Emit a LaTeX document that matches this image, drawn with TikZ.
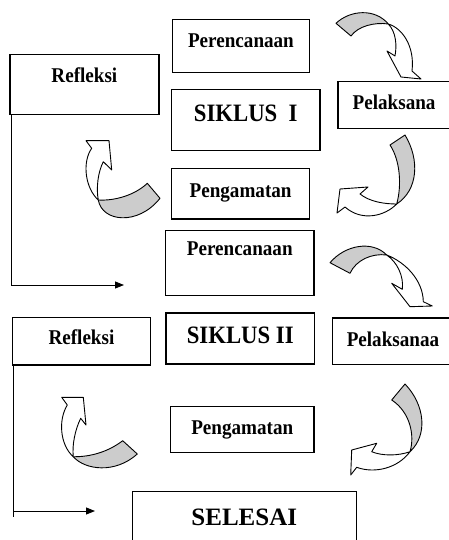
\documentclass[tikz,border=0pt]{standalone}
\usepackage{fontspec}
\newfontfamily\stepfont[FakeStretch=0.91]{Liberation Serif}
\newfontfamily\endfont{Liberation Serif}
\usetikzlibrary{arrows.meta,calc}

\tikzset{
  stepbox/.style={draw, line width=1.2pt, inner sep=0pt, anchor=north west,
    font=\stepfont\bfseries\fontsize{21}{25}\selectfont},
  cyclebox/.style={stepbox, font=\stepfont\bfseries\fontsize{25}{30}\selectfont},
  flow/.style={-{Triangle[length=9pt,width=7pt]}, line width=0.9pt},
  backface/.style={draw, fill=gray!40, line width=0.9pt, line join=round},
  frontface/.style={draw, fill=white, line width=0.9pt, line join=round},
}

\begin{document}
\begin{tikzpicture}[x=1pt, y=-1pt]

\useasboundingbox (0,0) rectangle (449,540);
\clip (0,0) rectangle (449,540);

% siklus I
\node[stepbox, minimum width=137.3pt, text height=28.3pt, text depth=24.4pt] (plan1) at (171.7,19) {Perencanaan};
\node[stepbox, minimum width=149pt, text height=28.3pt, text depth=31.7pt] (refl1) at (9.3,54) {Refleksi};
\node[cyclebox, minimum width=148.3pt, text height=32pt, text depth=28.7pt] (cyc1) at (171,89.3) {SIKLUS\ \ I};
\node[stepbox, minimum width=112.4pt, text height=28pt, text depth=18.7pt] (act1) at (337.3,81) {Pelaksana};
\node[stepbox, minimum width=138pt, text height=29pt, text depth=21.6pt] (obs1) at (171,167.7) {Pengamatan};

% siklus II
\node[stepbox, minimum width=148.3pt, text height=25pt, text depth=40pt] (plan2) at (165,230) {Perencanaan};
\node[stepbox, minimum width=138.3pt, text height=27.3pt, text depth=20.3pt] (refl2) at (11.7,316.7) {Refleksi};
\node[cyclebox, minimum width=148.7pt, text height=31pt, text depth=20pt] (cyc2) at (165.3,312.3) {SIKLUS II};
\node[stepbox, minimum width=121.3pt, text height=28.7pt, text depth=18pt] (act2) at (331.7,317.3) {Pelaksanaa};
\node[stepbox, minimum width=143.3pt, text height=28.3pt, text depth=18pt] (obs2) at (170,405.7) {Pengamatan};

\node[stepbox, font=\endfont\bfseries\fontsize{25}{30}\selectfont, minimum width=224pt, text height=34pt, text depth=35pt] (done) at (131.7,490.7) {SELESAI};

% refleksi -> next step
\coordinate (in1) at (124,285);
\draw[flow] ($(refl1.south west)+(2.4,0)$) |- (in1);

\coordinate (end2) at (13,517);
\coordinate (in2) at (95,511);
\draw[line width=0.9pt] ($(refl2.south west)+(1.3,0)$) -- (end2);
\draw[flow] (end2 |- in2) -- (in2);

% curved arrows, siklus I
\draw[backface] (336,23.3) .. controls (350,10) and (375,8) .. (388.3,24) .. controls (375,22) and (358,26) .. (351,36) -- cycle;
\draw[frontface] (388.3,24) .. controls (402,28) and (415,46) .. (412,71) -- (421,79) -- (401,77) -- (387,51) -- (395,56) .. controls (397,45) and (396,32) .. (388.3,24) -- cycle;

\draw[backface] (390,145) -- (405,135) .. controls (420,160) and (418,190) .. (396.7,204) .. controls (402,185) and (400,160) .. (390,145) -- cycle;
\draw[frontface] (396.7,204) .. controls (385,216) and (362,222) .. (345,207) -- (337,213) -- (340,189) -- (368,187) -- (360,194) .. controls (370,202) and (385,204) .. (396.7,204) -- cycle;

\draw[backface] (147.3,183.3) .. controls (135,195) and (115,201) .. (98.3,200) .. controls (102,222) and (138,226) .. (160,198.3) -- cycle;
\draw[frontface] (98.3,200) .. controls (85,188) and (82,162) .. (91.7,148.3) -- (86,140.7) -- (109,140.7) -- (111.7,170) -- (103.3,161.7) .. controls (98,172) and (96,188) .. (98.3,200) -- cycle;

% curved arrows, siklus II
\draw[backface] (330,262.7) .. controls (345,245) and (372,240) .. (386.7,255) .. controls (372,253) and (356,260) .. (350,273.3) -- cycle;
\draw[frontface] (386.7,255) .. controls (405,262) and (423,280) .. (423.3,301.7) -- (432.3,306) -- (410,306.7) -- (391.7,283.3) -- (402.3,289.3) .. controls (404,276) and (397,262) .. (386.7,255) -- cycle;

\draw[backface] (391.7,400) -- (405,384) .. controls (425,405) and (428,435) .. (410,451.7) .. controls (415,435) and (410,412) .. (391.7,400) -- cycle;
\draw[frontface] (410,451.7) .. controls (398,468) and (375,474) .. (356.7,467.3) -- (350.7,475) -- (351.7,450) -- (376.7,443.3) -- (371.7,451.7) .. controls (382,456) and (398,456) .. (410,451.7) -- cycle;

\draw[backface] (122.7,440.7) .. controls (108,452) and (90,457) .. (73.3,456.7) .. controls (85,470) and (115,474) .. (137.3,454) -- cycle;
\draw[frontface] (73.3,456.7) .. controls (60,445) and (58,420) .. (67.3,405) -- (61.7,397.3) -- (83.3,397.3) -- (86,425) -- (80.7,418.3) .. controls (75,430) and (72,445) .. (73.3,456.7) -- cycle;

\end{tikzpicture}
\end{document}
